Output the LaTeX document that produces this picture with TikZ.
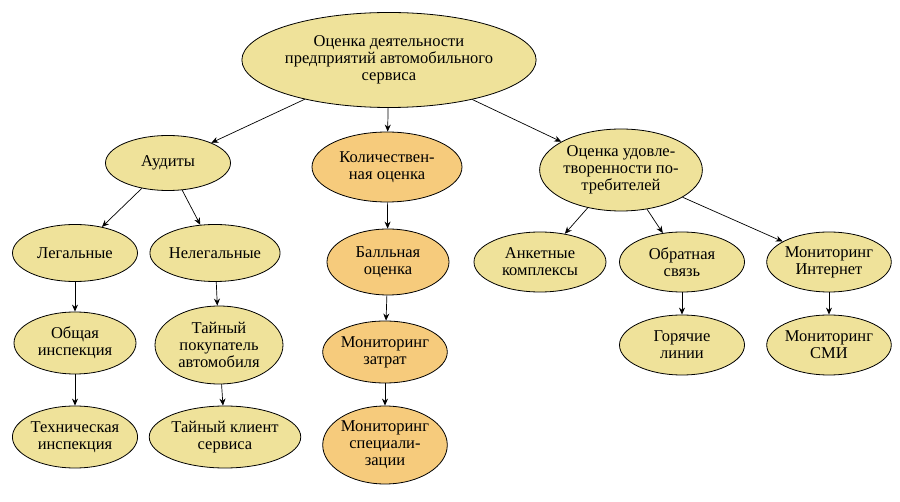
\documentclass[tikz,border=0pt]{standalone}
\usepackage{fontspec}
\setmainfont{Liberation Serif}
\usetikzlibrary{shapes.geometric,arrows.meta}
\definecolor{yel}{HTML}{EFE29A}
\definecolor{ora}{HTML}{F6CB7C}
\tikzset{
 el/.style={ellipse,draw=black,line width=0.8pt,fill=yel,align=center,inner sep=0pt,font=\fontsize{16.5}{17}\selectfont},
 ol/.style={el,fill=ora},
 ar/.style={-{Stealth[length=7pt,width=6pt]},line width=0.7pt}
}
\begin{document}
\begin{tikzpicture}[x=1pt,y=-1pt]
\useasboundingbox (0,0) rectangle (900,502);
\node[el,minimum width=275,minimum height=95] (r) at (389,60) {Оценка деятельности\\предприятий автомобильного\\сервиса};
\node[el,minimum width=125,minimum height=55] (a) at (168,163) {Аудиты};
\node[ol,minimum width=150,minimum height=70] (k) at (387,167) {Количествен-\\ная оценка};
\node[el,minimum width=160,minimum height=82] (u) at (621,170) {Оценка удовле-\\творенности по-\\требителей};
\node[el,minimum width=125,minimum height=57] (l) at (75,253) {Легальные};
\node[el,minimum width=127,minimum height=57] (n) at (215,253) {Нелегальные};
\node[ol,minimum width=122,minimum height=66] (b) at (388,262) {Балльная\\оценка};
\node[el,minimum width=132,minimum height=60] (ak) at (540,262) {Анкетные\\комплексы};
\node[el,minimum width=125,minimum height=60] (os) at (682,262) {Обратная\\связь};
\node[el,minimum width=122,minimum height=60] (mi) at (829,262) {Мониторинг\\Интернет};
\node[el,minimum width=122,minimum height=62] (oi) at (75,343) {Общая\\инспекция};
\node[el,minimum width=128,minimum height=78] (tp) at (219,345) {Тайный\\покупатель\\автомобиля};
\node[ol,minimum width=122,minimum height=62] (mz) at (385,352) {Мониторинг\\затрат};
\node[el,minimum width=125,minimum height=60] (gl) at (682,345) {Горячие\\линии};
\node[el,minimum width=122,minimum height=60] (ms) at (829,345) {Мониторинг\\СМИ};
\node[el,minimum width=125,minimum height=62] (ti) at (75,437) {Техническая\\инспекция};
\node[el,minimum width=142,minimum height=62] (tk) at (225,437) {Тайный клиент\\сервиса};
\node[ol,minimum width=122,minimum height=78] (msp) at (385,445) {Мониторинг\\специали-\\зации};
\draw[ar] (r) -- (a);
\draw[ar] (r) -- (k);
\draw[ar] (r) -- (u);
\draw[ar] (a) -- (l);
\draw[ar] (a) -- (n);
\draw[ar] (k) -- (b);
\draw[ar] (b) -- (mz);
\draw[ar] (mz) -- (msp);
\draw[ar] (u) -- (ak);
\draw[ar] (u) -- (os);
\draw[ar] (u) -- (mi);
\draw[ar] (l) -- (oi);
\draw[ar] (oi) -- (ti);
\draw[ar] (n) -- (tp);
\draw[ar] (tp) -- (tk);
\draw[ar] (os) -- (gl);
\draw[ar] (mi) -- (ms);
\end{tikzpicture}
\end{document}
